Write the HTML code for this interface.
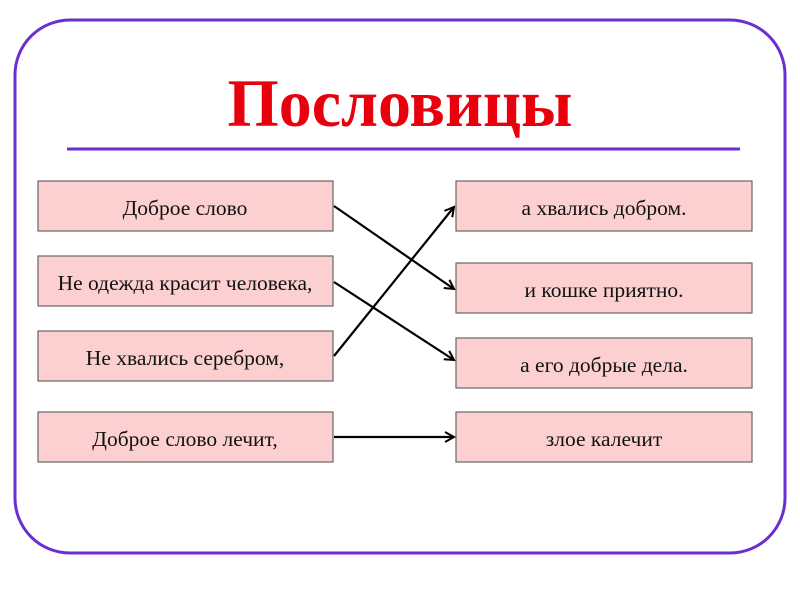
<!DOCTYPE html>
<html><head><meta charset="utf-8"><style>
body{margin:0;width:800px;height:600px;background:#fff;overflow:hidden;}
svg{display:block}
</style></head><body>
<svg width="800" height="600" xmlns="http://www.w3.org/2000/svg">
<defs><marker id="a" markerWidth="12" markerHeight="12" refX="10" refY="6" orient="auto" markerUnits="userSpaceOnUse"><path d="M1,1 L10,6 L1,11" fill="none" stroke="#000" stroke-width="2"/></marker></defs>
<rect x="15" y="20" width="770" height="533" rx="55" fill="#fff" stroke="#6a2fd0" stroke-width="3"/>
<text x="400" y="126" text-anchor="middle" font-family="Liberation Serif, serif" font-weight="bold" font-size="68" fill="#e8000d" textLength="345" lengthAdjust="spacingAndGlyphs">Пословицы</text>
<line x1="67" y1="149" x2="740" y2="149" stroke="#6a2fd0" stroke-width="3"/>
<g fill="#fcd0d0" stroke="#666" stroke-width="1.2">
<rect x="38" y="181" width="295" height="50"/><rect x="38" y="256" width="295" height="50"/>
<rect x="38" y="331" width="295" height="50"/><rect x="38" y="412" width="295" height="50"/>
<rect x="456" y="181" width="296" height="50"/><rect x="456" y="263" width="296" height="50"/>
<rect x="456" y="338" width="296" height="50"/><rect x="456" y="412" width="296" height="50"/>
</g>
<g font-family="Liberation Serif, serif" font-size="21.5" fill="#111" text-anchor="middle">
<text x="185" y="215">Доброе слово</text>
<text x="185" y="290">Не одежда красит человека,</text>
<text x="185" y="365">Не хвались серебром,</text>
<text x="185" y="446">Доброе слово лечит,</text>
<text x="604" y="215">а хвались добром.</text>
<text x="604" y="297">и кошке приятно.</text>
<text x="604" y="372">а его добрые дела.</text>
<text x="604" y="446">злое калечит</text>
</g>
<g stroke="#000" stroke-width="2.2" marker-end="url(#a)">
<line x1="334" y1="206" x2="454" y2="289"/>
<line x1="334" y1="282" x2="454" y2="360"/>
<line x1="334" y1="356" x2="454" y2="207"/>
<line x1="334" y1="437" x2="454" y2="437"/>
</g>
</svg>
</body></html>
